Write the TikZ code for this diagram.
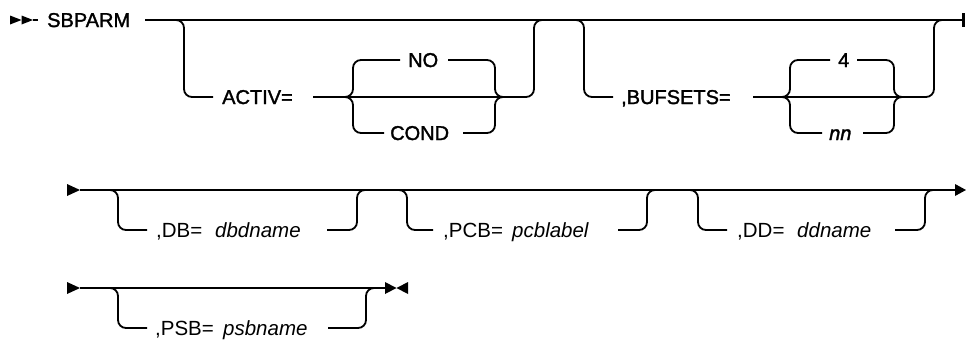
\documentclass[tikz,border=0pt]{standalone}
\usepackage{fontspec}
\setmainfont{Liberation Sans}
\newfontfamily\rowafont[FakeBold=1.6]{Liberation Sans}
\begin{document}
\begin{tikzpicture}[x=1pt,y=-1pt,
  rail/.style={draw, rounded corners=8pt, line width=1.8pt},
  kwa/.style={inner sep=0pt, anchor=base west, font=\rowafont\fontsize{20}{23}\selectfont},
  kwb/.style={inner sep=0pt, anchor=base west, font=\fontsize{20.5}{24}\selectfont},
  varb/.style={inner sep=0pt, anchor=base west, font=\fontsize{20.5}{24}\selectfont\itshape},
  vara/.style={inner sep=0pt, anchor=base west, font=\rowafont\fontsize{20}{23}\selectfont\itshape},
  tip/.style={fill=black}]
\useasboundingbox (0,0) rectangle (966,341);

% ---------- row 1 ----------
\fill[tip] (10,15.5) -- (10,24.5) -- (21.5,20) -- cycle;
\fill[tip] (21.5,15.5) -- (21.5,24.5) -- (33,20) -- cycle;
\coordinate (s1a) at (33,20);
\coordinate (s1b) at (38,20);
\draw[rail] (s1a) -- (s1b);
\node[kwa] (sbparm) at (47,27) {SBPARM};
\coordinate (m1a) at (145,20);
\coordinate (m1b) at (962,20);
\draw[rail] (m1a) -- (m1b);
\draw[line width=3pt] (963,13) -- (963,27);

% ACTIV= branch
\coordinate (b1s) at (175,20);
\coordinate (b1v) at (184,97);
\coordinate (b1e) at (213,97);
\draw[rail] (b1s) -| (b1v) -- (b1e);
\node[kwa] (activ) at (222,104) {ACTIV=};
\coordinate (a1l) at (313,97);
\coordinate (c1l) at (345,97);
\coordinate (c1r) at (503,97);
\draw[rail] (a1l) -- (c1l) -- (c1r);
\node[kwa] (no) at (408,67) {NO};
\node[kwa] (cond) at (390,140) {COND};
\draw[rail] (c1l) -| (353,60) -- (400,60);
\draw[rail] (c1l) -| (353,133) -- (384,133);
\draw[rail] (448,60) -| (495,97) -- (c1r);
\draw[rail] (463,133) -| (495,97) -- (c1r);
\coordinate (j1) at (534,20);
\draw[rail] (c1r) -| (j1) -- (543,20);

% ,BUFSETS= branch
\coordinate (b2s) at (575,20);
\coordinate (b2v) at (584,97);
\coordinate (b2e) at (613,97);
\draw[rail] (b2s) -| (b2v) -- (b2e);
\node[kwa] (bufsets) at (621,104) {,BUFSETS=};
\coordinate (a2l) at (753,97);
\coordinate (c2l) at (783,97);
\coordinate (c2r) at (900,97);
\draw[rail] (a2l) -- (c2l) -- (c2r);
\node[kwa] (four) at (838,67) {4};
\node[vara] (nn) at (829,140) {nn};
\draw[rail] (c2l) -| (790,60) -- (830,60);
\draw[rail] (c2l) -| (790,133) -- (822,133);
\draw[rail] (857,60) -| (894,97) -- (c2r);
\draw[rail] (863,133) -| (894,97) -- (c2r);
\coordinate (j2) at (934,20);
\draw[rail] (c2r) -| (j2) -- (943,20);

% ---------- row 2 ----------
\fill[tip] (67,184) -- (67,196) -- (80,190) -- cycle;
\coordinate (m2a) at (80,190);
\coordinate (m2b) at (955,190);
\draw[rail] (m2a) -- (m2b);
\fill[tip] (955,184) -- (955,196) -- (966,190) -- cycle;

\draw[rail] (110,190) -| (118,230) -- (147,230);
\node[kwb] (db) at (156,237) {,DB=};
\node[varb] (dbn) at (215,237) {dbdname};
\draw[rail] (327,230) -| (357,190) -- (367,190);

\draw[rail] (398,190) -| (407,230) -- (433,230);
\node[kwb] (pcb) at (443,237) {,PCB=};
\node[varb] (pcbn) at (512,237) {pcblabel};
\draw[rail] (618,230) -| (647,190) -- (657,190);

\draw[rail] (690,190) -| (698,230) -- (727,230);
\node[kwb] (dd) at (737,237) {,DD=};
\node[varb] (ddn) at (797,237) {ddname};
\draw[rail] (895,230) -| (925,190) -- (935,190);

% ---------- row 3 ----------
\fill[tip] (67,282) -- (67,294) -- (80,288) -- cycle;
\coordinate (m3a) at (80,288);
\coordinate (m3b) at (385,288);
\draw[rail] (m3a) -- (m3b);
\fill[tip] (385,282) -- (385,294) -- (396.5,288) -- cycle;
\fill[tip] (408,282) -- (408,294) -- (396.5,288) -- cycle;

\draw[rail] (110,288) -| (118,328) -- (147,328);
\node[kwb] (psb) at (155,335) {,PSB=};
\node[varb] (psbn) at (223,335) {psbname};
\draw[rail] (328,328) -| (366,288) -- (376,288);
\end{tikzpicture}
\end{document}
